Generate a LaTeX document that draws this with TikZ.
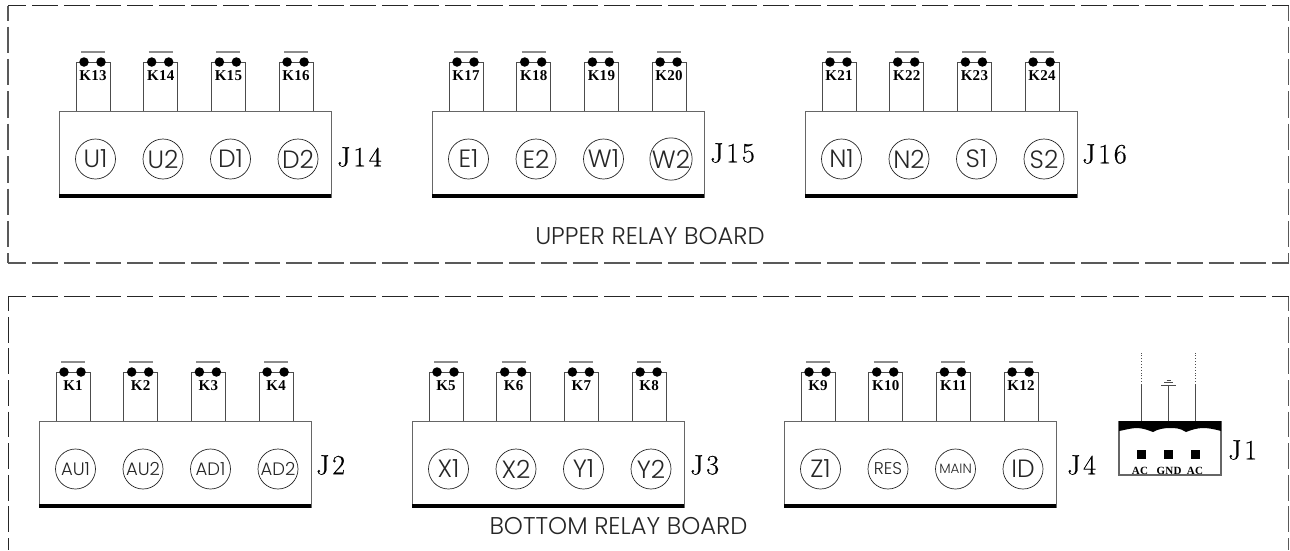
\documentclass[tikz,border=0pt]{standalone}
\usepackage{fontspec}
\setsansfont{Poppins Light}
\newfontfamily\bfser{Liberation Serif}[LetterSpace=2]
\newfontfamily\jfont{Latin Modern Roman}[LetterSpace=10,FakeBold=0.5]
\usetikzlibrary{calc}
\tikzset{
 hdash/.style={dash pattern=on 25.8pt off 6pt,dash phase=7.8pt},
 vdashu/.style={dash pattern=on 26.4pt off 6pt,dash phase=11.4pt},
 vdashl/.style={dash pattern=on 25.8pt off 5.8pt,dash phase=11.5pt},
 boardu/.style={draw=black!65,line width=1.2pt},
 boardl/.style={draw=black!85,line width=1pt},
 blockbox/.style={draw=black!60,line width=1pt},
 tabline/.style={draw=black!70,line width=0.9pt},
 pin/.style={circle,fill=black,inner sep=0pt,minimum size=9.5pt},
 topbar/.style={draw=black!45,line width=2.6pt},
 thickbar/.style={draw=black,line width=3.6pt},
 portcircle/.style={circle,draw=black!85,line width=0.7pt,minimum size=40pt,inner sep=0pt,font=\sffamily\fontsize{25}{25}\selectfont,text=black!85},
 relaylabel/.style={inner sep=0pt,font=\bfser\bfseries\fontsize{15}{15}\selectfont},
 connlabel/.style={inner sep=0pt,anchor=west,font=\jfont\fontsize{28}{28}\selectfont},
 caption/.style={inner sep=0pt,font=\sffamily\fontsize{24.2}{24}\selectfont,text=black!85},
 aclabel/.style={inner sep=0pt,font=\bfser\bfseries\fontsize{11}{11}\selectfont},
}
\newcommand{\termblock}[8]{%
 \coordinate (#1o) at (#2,#3);
 \draw[blockbox] ($(#1o)$) rectangle ($(#1o)+(272,86)$);
 \draw[thickbar] ($(#1o)+(0,85)$) -- ($(#1o)+(272,85)$);
 \foreach \i/\lab in {#5}{
  \coordinate (t) at ($(#1o)+(17+\i*67.7,0)$);
  \draw[tabline] ($(t)$) -- ($(t)+(0,-49)$) -- ($(t)+(34,-49)$) -- ($(t)+(34,0)$);
  \draw[topbar] ($(t)+(5,-59)$) -- ($(t)+(29,-59)$);
  \node[pin] at ($(t)+(8,-49)$) {};
  \node[pin] at ($(t)+(25,-49)$) {};
  \node[relaylabel] at ($(t)+(17,-35)$) {\lab};
 }
 \foreach \i/\lab in {#6}{
  \node[portcircle] (#1c\i) at ($(#1o)+(36.5+\i*67.5,48)$) {\lab};
 }
 \node[connlabel] at ($(#1o)+(#7,#8)$) {#4};
}
\begin{document}
\begin{tikzpicture}[x=1pt,y=-1pt]
\useasboundingbox (0,0) rectangle (1290,550);
\coordinate (ua) at (8,5.5);
\coordinate (ub) at (1288.7,5.5);
\coordinate (uc) at (8,263);
\coordinate (ud) at (1288.7,263);
\coordinate (la) at (8,296.7);
\coordinate (lb) at (1288.7,296.7);
\coordinate (lc) at (8,550);
\coordinate (ld) at (1288.7,550);
\draw[boardl,hdash] (ua) -- (ub);
\draw[boardu,hdash] (uc) -- (ud);
\draw[boardu,vdashu] (ua) -- (uc);
\draw[boardu,vdashu] (ub) -- (ud);
\draw[boardl,hdash] (la) -- (lb);
\draw[boardl,vdashl] (la) -- (lc);
\draw[boardu,vdashl] (lb) -- (ld);
\termblock{a}{59}{111}{J14}{0/K13,1/K14,2/K15,3/K16}{0/U1,1/U2,2/D1,3/D2}{278}{46}
\termblock{b}{432}{111}{J15}{0/K17,1/K18,2/K19,3/K20}{0/E1,1/E2,2/W1,3/W2}{278}{42}
\termblock{c}{805}{111}{J16}{0/K21,1/K22,2/K23,3/K24}{0/N1,1/N2,2/S1,3/S2}{277}{43}
\termblock{d}{39}{421}{J2}{0/K1,1/K2,2/K3,3/K4}{0/{\fontsize{18}{18}\selectfont AU1},1/{\fontsize{18}{18}\selectfont AU2},2/{\fontsize{18}{18}\selectfont AD1},3/{\fontsize{18}{18}\selectfont AD2}}{277}{44}
\termblock{e}{412}{421}{J3}{0/K5,1/K6,2/K7,3/K8}{0/X1,1/X2,2/Y1,3/Y2}{278}{44}
\termblock{f}{784}{421}{J4}{0/K9,1/K10,2/K11,3/K12}{0/Z1,1/{\fontsize{17}{17}\selectfont RES},2/{\fontsize{13.5}{13.5}\selectfont MAIN},3/ID}{283}{44}
\node[caption] (upcap) at (650,236) {UPPER RELAY BOARD};
\node[caption] (lowcap) at (618.5,526) {BOTTOM RELAY BOARD};
% J1
\draw[blockbox,line width=1.2pt] (1119,421) -- (1119,475) -- (1221,475) -- (1221,421);
\fill[black] (1119,421) -- (1221,421) -- (1221,431) .. controls (1214,429) and (1208,428) .. (1203,428) .. controls (1197,428) and (1191,430) .. (1186,432) .. controls (1180,428) and (1175,428) .. (1170,428) .. controls (1164,428) and (1158,429) .. (1153,432) .. controls (1148,430) and (1142,428) .. (1137,428) .. controls (1131,428) and (1125,430) .. (1119,431) -- cycle;
\coordinate (p1) at (1141.5,421);
\coordinate (p2) at (1168.5,421);
\coordinate (p3) at (1195.5,421);
\coordinate (g) at (1168.5,385);
\draw[tabline] (p1) -- (1141.5,385);
\draw[tabline,dotted,line width=0.6pt] (1141.5,385) -- (1141.5,353);
\draw[tabline] (p3) -- (1195.5,385);
\draw[tabline,dotted,line width=0.6pt] (1195.5,385) -- (1195.5,353);
\draw[tabline] (p2) -- (g);
\draw[tabline] (1161,385) -- (1176,385);
\draw[tabline] (1164,382.5) -- (1173,382.5);
\draw[tabline,line width=0.7pt] (1166.5,380) -- (1170.5,380);
\foreach \x in {1141.5,1168.5,1195.5}{\fill[black] (\x-4.5,454-4.5) rectangle (\x+4.5,454+4.5);}
\node[aclabel] at (1140,470.5) {AC};
\node[aclabel] at (1169,470.5) {GND};
\node[aclabel] at (1195,470.5) {AC};
\node[connlabel] at (1228,450) {J1};
\end{tikzpicture}
\end{document}
